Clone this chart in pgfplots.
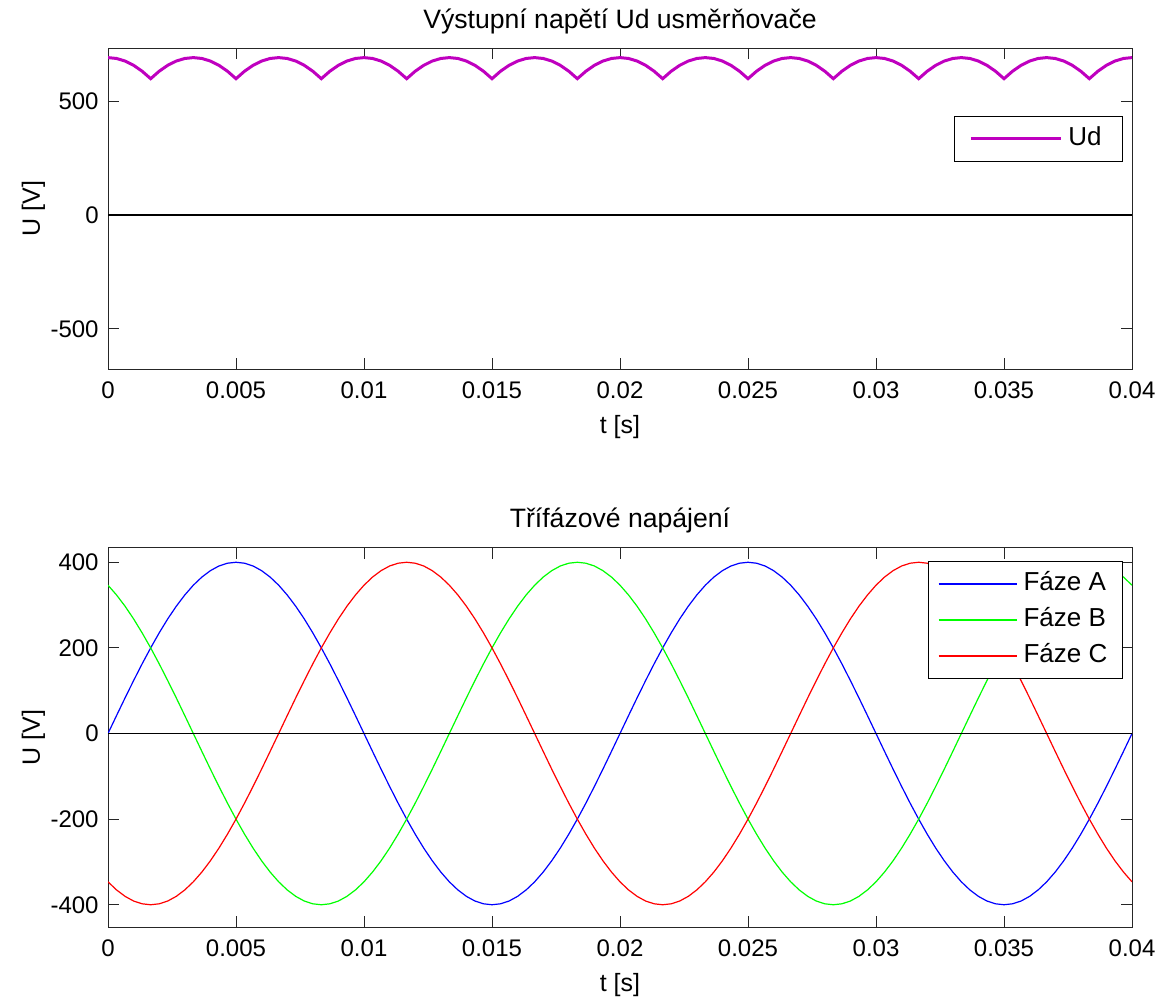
\documentclass[border=0pt]{standalone}
\usepackage{fontspec}
\setmainfont{Liberation Sans}
\usepackage{pgfplots}
\usepackage{pgfplotstable}
\pgfplotsset{compat=1.18}
\definecolor{udmag}{RGB}{191,0,191}
\definecolor{phA}{RGB}{0,0,255}
\definecolor{phB}{RGB}{0,255,0}
\definecolor{phC}{RGB}{255,0,0}

% t [s], phase voltages A B C [V], rectifier output Ud [V]
\pgfplotstableread{
t A B C Ud
0 0 346.4 -346.4 692.8
0.000333 41.8 323.6 -365.4 689.0
0.000667 83.2 297.3 -380.4 677.7
0.001 123.6 267.7 -391.3 658.9
0.001333 162.7 235.1 -397.8 632.9
0.001667 200.0 200.0 -400.0 600.0
0.002 235.1 162.7 -397.8 632.9
0.002333 267.7 123.6 -391.3 658.9
0.002667 297.3 83.2 -380.4 677.7
0.003 323.6 41.8 -365.4 689.0
0.003333 346.4 0 -346.4 692.8
0.003667 365.4 -41.8 -323.6 689.0
0.004 380.4 -83.2 -297.3 677.7
0.004333 391.3 -123.6 -267.7 658.9
0.004667 397.8 -162.7 -235.1 632.9
0.005 400.0 -200.0 -200.0 600.0
0.005333 397.8 -235.1 -162.7 632.9
0.005667 391.3 -267.7 -123.6 658.9
0.006 380.4 -297.3 -83.2 677.7
0.006333 365.4 -323.6 -41.8 689.0
0.006667 346.4 -346.4 0 692.8
0.007 323.6 -365.4 41.8 689.0
0.007333 297.3 -380.4 83.2 677.7
0.007667 267.7 -391.3 123.6 658.9
0.008 235.1 -397.8 162.7 632.9
0.008333 200.0 -400.0 200.0 600.0
0.008667 162.7 -397.8 235.1 632.9
0.009 123.6 -391.3 267.7 658.9
0.009333 83.2 -380.4 297.3 677.7
0.009667 41.8 -365.4 323.6 689.0
0.01 0 -346.4 346.4 692.8
0.010333 -41.8 -323.6 365.4 689.0
0.010667 -83.2 -297.3 380.4 677.7
0.011 -123.6 -267.7 391.3 658.9
0.011333 -162.7 -235.1 397.8 632.9
0.011667 -200.0 -200.0 400.0 600.0
0.012 -235.1 -162.7 397.8 632.9
0.012333 -267.7 -123.6 391.3 658.9
0.012667 -297.3 -83.2 380.4 677.7
0.013 -323.6 -41.8 365.4 689.0
0.013333 -346.4 0 346.4 692.8
0.013667 -365.4 41.8 323.6 689.0
0.014 -380.4 83.2 297.3 677.7
0.014333 -391.3 123.6 267.7 658.9
0.014667 -397.8 162.7 235.1 632.9
0.015 -400.0 200.0 200.0 600.0
0.015333 -397.8 235.1 162.7 632.9
0.015667 -391.3 267.7 123.6 658.9
0.016 -380.4 297.3 83.2 677.7
0.016333 -365.4 323.6 41.8 689.0
0.016667 -346.4 346.4 0 692.8
0.017 -323.6 365.4 -41.8 689.0
0.017333 -297.3 380.4 -83.2 677.7
0.017667 -267.7 391.3 -123.6 658.9
0.018 -235.1 397.8 -162.7 632.9
0.018333 -200.0 400.0 -200.0 600.0
0.018667 -162.7 397.8 -235.1 632.9
0.019 -123.6 391.3 -267.7 658.9
0.019333 -83.2 380.4 -297.3 677.7
0.019667 -41.8 365.4 -323.6 689.0
0.02 0 346.4 -346.4 692.8
0.020333 41.8 323.6 -365.4 689.0
0.020667 83.2 297.3 -380.4 677.7
0.021 123.6 267.7 -391.3 658.9
0.021333 162.7 235.1 -397.8 632.9
0.021667 200.0 200.0 -400.0 600.0
0.022 235.1 162.7 -397.8 632.9
0.022333 267.7 123.6 -391.3 658.9
0.022667 297.3 83.2 -380.4 677.7
0.023 323.6 41.8 -365.4 689.0
0.023333 346.4 0 -346.4 692.8
0.023667 365.4 -41.8 -323.6 689.0
0.024 380.4 -83.2 -297.3 677.7
0.024333 391.3 -123.6 -267.7 658.9
0.024667 397.8 -162.7 -235.1 632.9
0.025 400.0 -200.0 -200.0 600.0
0.025333 397.8 -235.1 -162.7 632.9
0.025667 391.3 -267.7 -123.6 658.9
0.026 380.4 -297.3 -83.2 677.7
0.026333 365.4 -323.6 -41.8 689.0
0.026667 346.4 -346.4 0 692.8
0.027 323.6 -365.4 41.8 689.0
0.027333 297.3 -380.4 83.2 677.7
0.027667 267.7 -391.3 123.6 658.9
0.028 235.1 -397.8 162.7 632.9
0.028333 200.0 -400.0 200.0 600.0
0.028667 162.7 -397.8 235.1 632.9
0.029 123.6 -391.3 267.7 658.9
0.029333 83.2 -380.4 297.3 677.7
0.029667 41.8 -365.4 323.6 689.0
0.03 0 -346.4 346.4 692.8
0.030333 -41.8 -323.6 365.4 689.0
0.030667 -83.2 -297.3 380.4 677.7
0.031 -123.6 -267.7 391.3 658.9
0.031333 -162.7 -235.1 397.8 632.9
0.031667 -200.0 -200.0 400.0 600.0
0.032 -235.1 -162.7 397.8 632.9
0.032333 -267.7 -123.6 391.3 658.9
0.032667 -297.3 -83.2 380.4 677.7
0.033 -323.6 -41.8 365.4 689.0
0.033333 -346.4 0 346.4 692.8
0.033667 -365.4 41.8 323.6 689.0
0.034 -380.4 83.2 297.3 677.7
0.034333 -391.3 123.6 267.7 658.9
0.034667 -397.8 162.7 235.1 632.9
0.035 -400.0 200.0 200.0 600.0
0.035333 -397.8 235.1 162.7 632.9
0.035667 -391.3 267.7 123.6 658.9
0.036 -380.4 297.3 83.2 677.7
0.036333 -365.4 323.6 41.8 689.0
0.036667 -346.4 346.4 0 692.8
0.037 -323.6 365.4 -41.8 689.0
0.037333 -297.3 380.4 -83.2 677.7
0.037667 -267.7 391.3 -123.6 658.9
0.038 -235.1 397.8 -162.7 632.9
0.038333 -200.0 400.0 -200.0 600.0
0.038667 -162.7 397.8 -235.1 632.9
0.039 -123.6 391.3 -267.7 658.9
0.039333 -83.2 380.4 -297.3 677.7
0.039667 -41.8 365.4 -323.6 689.0
0.04 0 346.4 -346.4 692.8
}\phases

\pgfplotsset{
  matlab/.style={
    scale only axis, width=512pt,
    xmin=0, xmax=0.04,
    scaled x ticks=false, scaled y ticks=false,
    axis line style={line width=0.5pt, black!85},
    tick style={line width=0.5pt, black!85},
    tick align=inside, major tick length=5.5pt,
    xtick={0,0.005,0.01,0.015,0.02,0.025,0.03,0.035,0.04},
    xticklabels={0,0.005,0.01,0.015,0.02,0.025,0.03,0.035,0.04},
    tick label style={font=\fontsize{12}{14}\selectfont},
    xticklabel style={anchor=base, yshift=-14.5pt},
    yticklabel style={anchor=east, inner sep=0pt, xshift=-4.5pt},
    label style={font=\fontsize{12.5}{15}\selectfont},
    xlabel style={at={(axis description cs:0.5,0)}, anchor=base, yshift=-32pt},
    ylabel style={at={(axis description cs:0,0.5)}, anchor=base, yshift=34pt},
    every axis title shift=0pt,
    title style={font=\fontsize{13.3}{16}\selectfont, at={(axis description cs:0.5,1)}, anchor=base, yshift=10pt},
    legend style={draw=black, line width=0.6pt, fill=white,
      font=\fontsize{13}{15}\selectfont, anchor=north east,
      nodes={text height=9.5pt, text depth=3pt, inner xsep=3pt, inner ysep=2pt},
      inner ysep=3pt, row sep=1.5pt},
    legend cell align=left,
    xlabel={t [s]}, ylabel={U [V]},
  }
}

\begin{document}
\begin{tikzpicture}
\useasboundingbox (0,0) rectangle (580pt,499pt);

\begin{axis}[matlab,
  at={(54pt,314.5pt)}, anchor=south west, height=160.5pt,
  ymin=-677, ymax=735,
  ytick={-500,0,500}, yticklabels={-500,0,500},
  title={Výstupní napětí Ud usměrňovače},
  legend style={at={(axis description cs:0.9915,0.789)}, inner xsep=7.5pt},
  legend image code/.code={\draw[#1] (0pt,0pt) -- (45pt,0pt);},
]
  \addplot[udmag, line width=1.5pt] table[x=t, y=Ud] {\phases};
  \addlegendentry{Ud}
  \addplot[black, line width=0.8pt, forget plot] coordinates {(0,0) (0.04,0)};
\end{axis}

\begin{axis}[matlab,
  at={(54pt,35.5pt)}, anchor=south west, height=189.65pt,
  ymin=-452, ymax=434,
  ytick={-400,-200,0,200,400}, yticklabels={-400,-200,0,200,400},
  title={Třífázové napájení},
  legend style={at={(axis description cs:0.9912,0.9657)}, inner xsep=4.5pt},
  legend image code/.code={\draw[#1, line width=1pt] (0pt,0pt) -- (39pt,0pt);},
]
  \addplot[phA, line width=0.6pt] table[x=t, y=A] {\phases};
  \addlegendentry{Fáze A}
  \addplot[phB, line width=0.6pt] table[x=t, y=B] {\phases};
  \addlegendentry{Fáze B}
  \addplot[phC, line width=0.6pt] table[x=t, y=C] {\phases};
  \addlegendentry{Fáze C}
  \addplot[black, line width=0.8pt, forget plot] coordinates {(0,0) (0.04,0)};
\end{axis}
\end{tikzpicture}
\end{document}
